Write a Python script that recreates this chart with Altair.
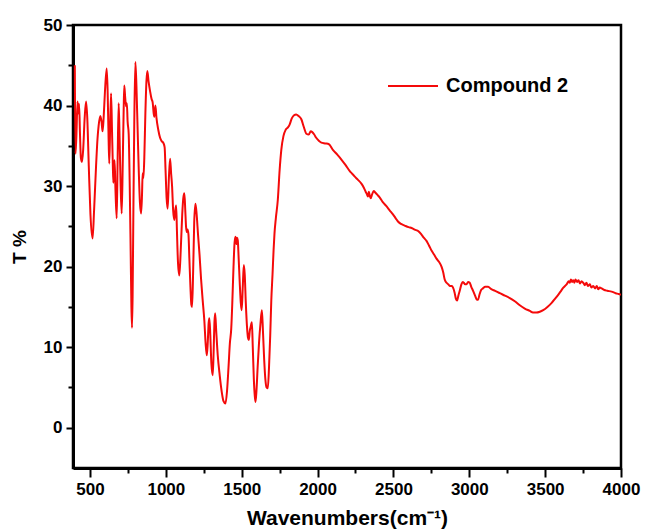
import altair as alt
import pandas as pd

# FT-IR spectrum of compound 2: wavenumber (cm-1) vs transmittance (%)
wavenumber = [
    400, 404, 410, 418, 423, 428, 434, 440, 447, 455, 465, 474, 482, 492, 503, 517,
    527, 540, 550, 557, 568, 576, 583, 590, 598, 610, 616, 622, 627, 633, 639, 645,
    650, 654, 658, 662, 668, 676, 682, 689, 695, 702, 709, 716, 722, 726, 732, 738,
    743, 748, 755, 762, 768, 773, 777, 781, 786, 792, 799, 806, 814, 822, 829, 837,
    843, 847, 852, 858, 865, 872, 878, 886, 896, 906, 913, 920, 924, 931, 938, 950,
    962, 972, 985, 992, 998, 1005, 1012, 1020, 1028, 1035, 1041, 1048, 1056, 1062, 1068, 1073,
    1080, 1089, 1098, 1108, 1115, 1122, 1128, 1133, 1138, 1143, 1149, 1155, 1162, 1168, 1173, 1180,
    1187, 1195, 1203, 1212, 1222, 1232, 1242, 1254, 1262, 1270, 1276, 1282, 1287, 1293, 1300, 1309,
    1315, 1320, 1325, 1332, 1342, 1355, 1368, 1380, 1393, 1403, 1413, 1422, 1431, 1438, 1446, 1453,
    1459, 1465, 1469, 1474, 1480, 1487, 1494, 1500, 1507, 1514, 1520, 1527, 1535, 1541, 1547, 1553,
    1559, 1567, 1573, 1580, 1586, 1591, 1597, 1605, 1614, 1624, 1633, 1640, 1648, 1656, 1664, 1672,
    1680, 1688, 1695, 1703, 1710, 1716, 1725, 1738, 1750, 1761, 1775, 1790, 1805, 1815, 1830, 1845,
    1859, 1875, 1893, 1910, 1926, 1942, 1955, 1965, 1978, 1991, 2010, 2025, 2050, 2075, 2101, 2130,
    2157, 2185, 2211, 2230, 2244, 2265, 2289, 2305, 2317, 2325, 2332, 2338, 2344, 2350, 2360, 2370,
    2380, 2395, 2409, 2430, 2454, 2475, 2497, 2515, 2530, 2550, 2574, 2600, 2620, 2640, 2665, 2684,
    2700, 2718, 2735, 2751, 2768, 2784, 2800, 2817, 2828, 2838, 2850, 2862, 2871, 2885, 2893, 2903,
    2912, 2920, 2928, 2937, 2948, 2957, 2964, 2972, 2982, 2992, 3003, 3013, 3025, 3040, 3050, 3058,
    3067, 3078, 3090, 3105, 3124, 3145, 3170, 3201, 3235, 3267, 3300, 3333, 3366, 3399, 3420, 3442,
    3465, 3487, 3515, 3543, 3565, 3586, 3605, 3620, 3631, 3645, 3655, 3662, 3670, 3678, 3685, 3693,
    3700, 3710, 3720, 3730, 3740, 3751, 3762, 3772, 3782, 3795, 3805, 3817, 3830, 3840, 3850, 3860,
    3872, 3890, 3910, 3938, 3965, 3985, 4000,
]
transmittance = [
    45.0, 34.0, 36.0, 40.5, 39.0, 40.2, 36.5, 33.5, 33.0, 34.5, 38.5, 40.5, 38.5, 32.5, 26.5, 23.5,
    27.0, 32.5, 36.0, 37.5, 38.7, 38.0, 36.8, 38.5, 41.5, 44.6, 42.0, 36.5, 32.8, 37.5, 41.5, 37.0,
    33.0, 30.4, 32.5, 33.2, 29.5, 26.0, 33.0, 40.3, 36.0, 30.0, 26.6, 33.0, 39.5, 42.5, 41.0, 39.9,
    40.3, 38.0, 36.5, 30.0, 22.0, 15.0, 12.4, 16.5, 27.0, 38.0, 45.4, 42.5, 37.0, 31.6, 28.0, 26.6,
    29.0, 31.6, 31.0, 33.5, 39.0, 43.0, 44.3, 43.0, 41.8, 40.8, 40.4, 39.0, 38.6, 40.0, 38.5, 37.0,
    36.0, 35.6, 35.3, 34.8, 32.0, 28.5, 27.2, 31.0, 33.4, 31.5, 30.0, 27.0, 25.8, 27.0, 27.6, 24.5,
    20.5, 18.9, 22.0, 26.5, 28.5, 29.1, 27.0, 25.0, 24.3, 24.6, 24.0, 21.0, 17.5, 15.3, 15.0, 19.5,
    25.5, 27.8, 26.5, 24.0, 21.5, 18.5, 16.0, 13.2, 10.5, 9.0, 10.5, 13.0, 13.6, 11.5, 8.0, 6.5,
    9.5, 13.0, 14.2, 12.0, 9.0, 6.5, 4.5, 3.3, 3.0, 4.5, 7.5, 10.5, 12.3, 15.5, 20.0, 23.0,
    23.7, 22.8, 23.6, 23.3, 21.0, 18.0, 15.5, 14.6, 17.5, 20.2, 19.0, 15.5, 12.5, 11.2, 10.9, 12.0,
    12.5, 13.1, 10.0, 6.0, 4.0, 3.2, 4.5, 7.5, 10.5, 13.0, 14.6, 12.0, 8.5, 6.0, 5.0, 4.9,
    7.5, 11.5, 15.8, 19.0, 22.0, 24.1, 26.0, 28.3, 32.0, 34.5, 36.2, 37.0, 37.3, 37.6, 38.4, 38.8,
    38.9, 38.7, 38.3, 37.3, 36.5, 36.4, 36.8, 36.7, 36.4, 36.0, 35.6, 35.4, 35.3, 35.2, 34.5, 33.9,
    33.3, 32.6, 31.9, 31.5, 31.2, 30.8, 30.3, 29.8, 29.3, 29.0, 28.7, 29.3, 28.8, 28.5, 29.0, 29.4,
    29.2, 28.9, 28.6, 28.0, 27.5, 27.0, 26.5, 26.0, 25.6, 25.3, 25.1, 24.9, 24.8, 24.6, 24.4, 24.0,
    23.6, 23.2, 22.6, 22.0, 21.5, 21.0, 20.6, 20.0, 19.3, 18.4, 18.0, 17.8, 17.6, 17.6, 17.4, 16.8,
    16.0, 15.8, 16.4, 17.0, 17.8, 18.1, 18.0, 17.8, 17.8, 18.1, 18.0, 17.5, 17.0, 16.3, 15.9, 15.9,
    16.5, 17.1, 17.3, 17.5, 17.5, 17.2, 17.0, 16.7, 16.4, 16.1, 15.7, 15.2, 14.8, 14.5, 14.3, 14.3,
    14.4, 14.6, 15.0, 15.5, 16.0, 16.5, 17.0, 17.4, 17.6, 17.9, 18.2, 18.0, 18.4, 18.1, 18.3, 18.0,
    18.4, 18.1, 18.3, 17.9, 18.2, 18.0, 17.7, 18.0, 17.6, 17.8, 17.4, 17.6, 17.3, 17.6, 17.2, 17.4,
    17.3, 17.1, 17.0, 16.9, 16.7, 16.6, 16.5,
]
series_name = "Compound 2"

x_major = [500, 1000, 1500, 2000, 2500, 3000, 3500, 4000]
x_minor = [750, 1250, 1750, 2250, 2750, 3250, 3750]
y_major = [0, 10, 20, 30, 40, 50]
y_minor = [5, 15, 25, 35, 45]

FONT = "Liberation Sans"

df = pd.DataFrame({"wavenumber": wavenumber, "T": transmittance, "series": series_name})

x_axis = alt.Axis(
    values=sorted(x_major + x_minor),
    format="d",
    labelExpr="datum.value % 500 == 0 ? datum.label : ''",
    tickSize={"condition": {"test": "datum.value % 500 != 0", "value": 5}, "value": 9},
    tickWidth=2,
    tickColor="black",
    domainColor="black",
    domainWidth=3,
    grid=False,
    labelFont=FONT,
    labelFontSize=17,
    labelFontWeight="bold",
    labelColor="black",
    labelPadding=4,
    labelFlush=False,
    labelOverlap=False,
    titleFont=FONT,
    titleFontSize=21,
    titleFontWeight="bold",
    titleColor="black",
    titlePadding=10,
)

y_axis = alt.Axis(
    values=sorted(y_major + y_minor),
    format="d",
    labelExpr="datum.value % 10 == 0 ? datum.label : ''",
    tickSize={"condition": {"test": "datum.value % 10 != 0", "value": 5}, "value": 7},
    tickWidth=2,
    tickColor="black",
    domainColor="black",
    domainWidth=3,
    grid=False,
    labelFont=FONT,
    labelFontSize=17,
    labelFontWeight="bold",
    labelColor="black",
    labelPadding=4,
    labelFlush=False,
    labelOverlap=False,
    titleFont=FONT,
    titleFontSize=19,
    titleFontWeight="bold",
    titleColor="black",
    titlePadding=14,
)

chart = (
    alt.Chart(df)
    .mark_line(strokeWidth=2, interpolate="monotone", clip=True)
    .encode(
        x=alt.X("wavenumber:Q", title="Wavenumbers(cm⁻¹)",
                scale=alt.Scale(domain=[388, 4000], nice=False, zero=False), axis=x_axis),
        y=alt.Y("T:Q", title="T %",
                scale=alt.Scale(domain=[-5, 50], nice=False, zero=False), axis=y_axis),
        color=alt.Color(
            "series:N",
            scale=alt.Scale(range=["#f40a0a"]),
            legend=alt.Legend(
                orient="none",
                legendX=314,
                legendY=35,
                title=None,
                padding=0,
                symbolType="stroke",
                symbolSize=2500,
                symbolStrokeWidth=2,
                labelOffset=7,
                labelFont=FONT,
                labelFontSize=20,
                labelFontWeight="bold",
                labelColor="black",
            ),
        ),
    )
    .properties(
        width=548,
        height=443,
        autosize="none",
        padding={"left": 73, "top": 25, "right": 25, "bottom": 64},
        background="white",
    )
    .configure_view(stroke="black", strokeWidth=2.5)
)

chart.save("out.html", embed_options={"renderer": "svg", "actions": False})
